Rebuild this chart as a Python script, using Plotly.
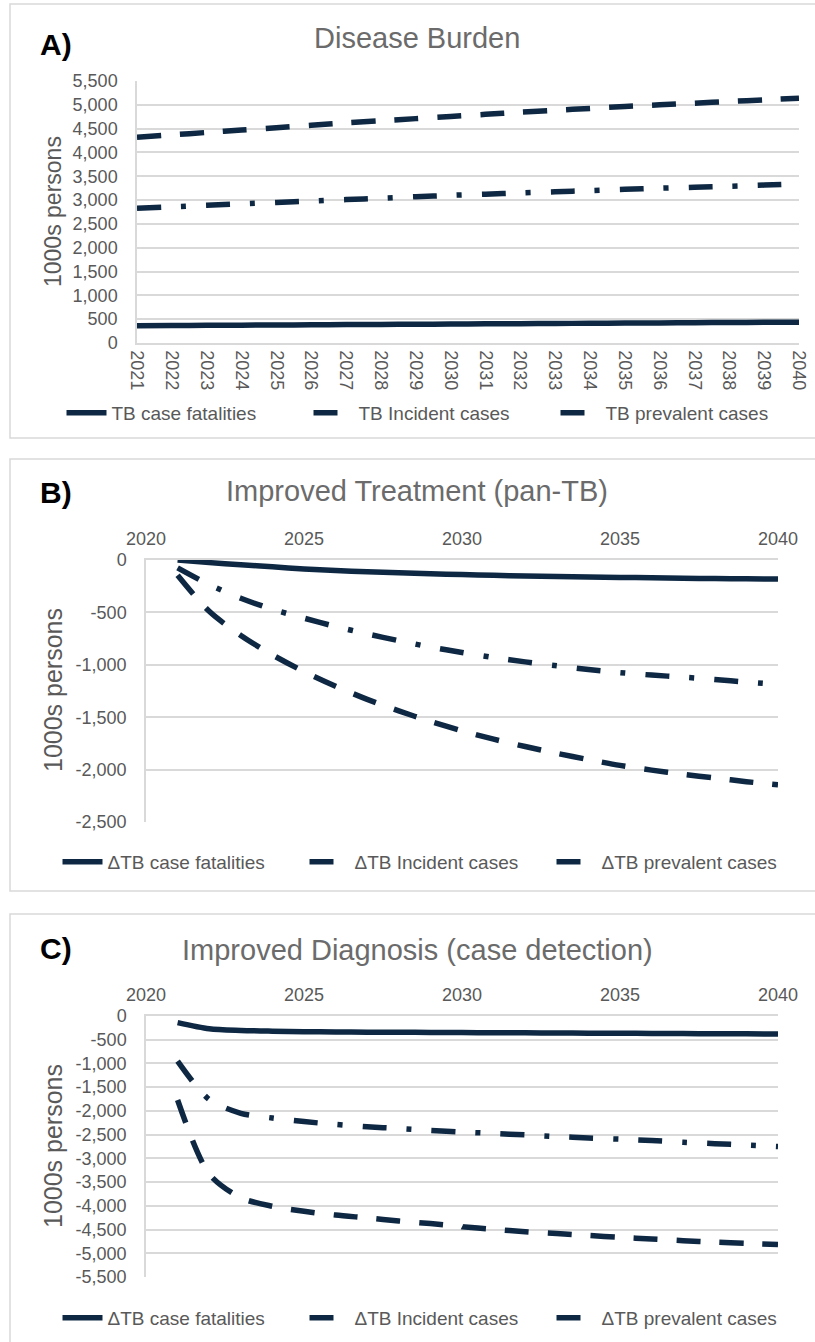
import plotly.graph_objects as go

# ---------------- data (1000s persons) ----------------
years = list(range(2021, 2041))

# A) Disease burden
a_fatalities = [360, 365, 370, 374, 378, 382, 386, 390, 394, 398,
                402, 406, 410, 414, 418, 422, 426, 430, 434, 438]
a_incident = [2830, 2860, 2890, 2920, 2950, 2980, 3010, 3040, 3070, 3100,
              3125, 3150, 3175, 3200, 3225, 3250, 3270, 3290, 3315, 3340]
a_prevalent = [4320, 4370, 4420, 4470, 4520, 4570, 4620, 4665, 4710, 4755,
               4800, 4845, 4885, 4925, 4965, 5000, 5035, 5070, 5105, 5140]

# B) Improved treatment (pan-TB), change vs baseline
b_fatalities = [0, -25, -45, -65, -85, -100, -112, -122, -131, -139,
                -146, -152, -157, -162, -166, -170, -174, -177, -180, -182]
b_incident = [-75, -235, -365, -470, -555, -635, -705, -770, -830, -882,
              -930, -972, -1010, -1045, -1075, -1098, -1118, -1140, -1165, -1188]
b_prevalent = [-145, -490, -720, -905, -1065, -1205, -1330, -1440, -1540, -1630,
               -1710, -1780, -1845, -1905, -1960, -2005, -2045, -2080, -2115, -2145]

# C) Improved diagnosis (case detection), change vs baseline
c_fatalities = [-140, -270, -305, -320, -330, -335, -340, -343, -346, -349,
                -352, -355, -358, -361, -364, -367, -370, -373, -376, -380]
c_incident = [-950, -1760, -2050, -2150, -2225, -2285, -2335, -2370, -2410, -2445,
              -2475, -2505, -2540, -2570, -2595, -2625, -2660, -2690, -2720, -2750]
c_prevalent = [-1770, -3330, -3830, -4010, -4115, -4195, -4255, -4320, -4375, -4440,
               -4495, -4545, -4585, -4625, -4665, -4700, -4735, -4765, -4790, -4815]

names_a = ["TB case fatalities", "TB Incident cases", "TB prevalent cases"]
names_delta = ["\u0394TB case fatalities", "\u0394TB Incident cases", "\u0394TB prevalent cases"]

a_yticks = list(range(0, 5501, 500))
b_yticks = list(range(-2500, 1, 500))
c_yticks = list(range(-5500, 1, 500))
bc_xticks = [2020, 2025, 2030, 2035, 2040]

# ---------------- styling ----------------
W, H = 815, 1342
NAVY = "#0e2843"
GRID = "#d9d9d9"
TXT = "#595959"
FONT = "Liberation Sans, Arial, sans-serif"
LW = 5.5
DASHES = ["solid", "24px,20px,5px,20px", "24px,19px"]


def px_x(v):
    return v / W


def px_y(v):
    return 1 - v / H


def fmt(v):
    return f"{v:,}"


fig = go.Figure()

panels = [
    ("", years, [a_fatalities, a_incident, a_prevalent], names_a, "legend"),
    ("2", years, [b_fatalities, b_incident, b_prevalent], names_delta, "legend2"),
    ("3", years, [c_fatalities, c_incident, c_prevalent], names_delta, "legend3"),
]

for suffix, xs, series, names, leg in panels:
    for ys, nm, dash in zip(series, names, DASHES):
        fig.add_trace(go.Scatter(
            x=xs, y=ys, name=nm, mode="lines",
            line=dict(color=NAVY, width=LW, dash=dash, shape="spline", smoothing=0.8),
            xaxis="x" + suffix, yaxis="y" + suffix, legend=leg,
            hoverinfo="skip",
        ))

tickfont = dict(family=FONT, size=18, color=TXT)

# plot-area placement (pixels)
A_x = (137, 799)
A_y = (81, 343)
BC_x = (146, 778)
B_y = (560, 822)
C_y = (1016, 1277)

common_x = dict(showgrid=False, showline=True, linecolor=GRID, linewidth=1.5,
                ticks="", tickfont=tickfont, zeroline=False, automargin=False)
common_y = dict(showgrid=True, gridcolor=GRID, gridwidth=1.5, showline=True,
                linecolor=GRID, linewidth=1.5, zeroline=False, ticks="",
                tickfont=tickfont, ticklabelstandoff=14, automargin=False)

fig.update_layout(
    width=W, height=H,
    margin=dict(l=0, r=0, t=0, b=0, autoexpand=False),
    paper_bgcolor="white", plot_bgcolor="white",
    font=dict(family=FONT, color=TXT),
    xaxis=dict(domain=[px_x(A_x[0]), px_x(A_x[1])], anchor="y",
               range=[2021, 2040], tickvals=years, ticktext=[str(y) for y in years],
               tickangle=90, ticklabelstandoff=2, **common_x),
    yaxis=dict(domain=[px_y(A_y[1]), px_y(A_y[0])], anchor="x",
               range=[0, 5500], tickvals=a_yticks, ticktext=[fmt(v) for v in a_yticks],
               **common_y),
    xaxis2=dict(domain=[px_x(BC_x[0]), px_x(BC_x[1])], anchor="y2", side="top",
                range=[2020, 2040], tickvals=bc_xticks, ticktext=[str(v) for v in bc_xticks],
                ticklabelstandoff=6, **common_x),
    yaxis2=dict(domain=[px_y(B_y[1]), px_y(B_y[0])], anchor="x2",
                range=[-2500, 0], tickvals=b_yticks, ticktext=[fmt(v) for v in b_yticks],
                **common_y),
    xaxis3=dict(domain=[px_x(BC_x[0]), px_x(BC_x[1])], anchor="y3", side="top",
                range=[2020, 2040], tickvals=bc_xticks, ticktext=[str(v) for v in bc_xticks],
                ticklabelstandoff=6, **common_x),
    yaxis3=dict(domain=[px_y(C_y[1]), px_y(C_y[0])], anchor="x3",
                range=[-5500, 0], tickvals=c_yticks, ticktext=[fmt(v) for v in c_yticks],
                **common_y),
)

legend_common = dict(orientation="h", xanchor="center", yanchor="middle",
                     font=dict(family=FONT, size=19, color=TXT),
                     bgcolor="rgba(0,0,0,0)", entrywidth=192, itemwidth=40,
                     tracegroupgap=0)
fig.update_layout(
    legend=dict(x=px_x(432), y=px_y(413), **legend_common),
    legend2=dict(x=px_x(428), y=px_y(862), **legend_common),
    legend3=dict(x=px_x(428), y=px_y(1318), **legend_common),
)

annotations = []
shapes = []
panel_text = [
    ("A)", "Disease Burden", 45, 38, 212, 23, (4, 438)),
    ("B)", "Improved Treatment (pan-TB)", 492, 491, 690, 25, (459, 891)),
    ("C)", "Improved Diagnosis (case detection)", 948, 950, 1146, 25, (914, 1360)),
]
for tag, title, tag_y, title_y, ylab_y, ylab_size, (top, bottom) in panel_text:
    annotations.append(dict(text=f"<b>{tag}</b>", x=px_x(56), y=px_y(tag_y),
                            xref="paper", yref="paper", showarrow=False,
                            xanchor="center", yanchor="middle",
                            font=dict(family=FONT, size=30, color="black")))
    annotations.append(dict(text=title, x=px_x(417), y=px_y(title_y),
                            xref="paper", yref="paper", showarrow=False,
                            xanchor="center", yanchor="middle",
                            font=dict(family=FONT, size=29, color="#6b6b6b")))
    annotations.append(dict(text="1000s persons", x=px_x(53), y=px_y(ylab_y),
                            xref="paper", yref="paper", showarrow=False, textangle=-90,
                            xanchor="center", yanchor="middle",
                            font=dict(family=FONT, size=ylab_size, color=TXT)))
    shapes.append(dict(type="rect", xref="paper", yref="paper",
                       x0=px_x(10), x1=px_x(830), y0=px_y(bottom), y1=px_y(top),
                       line=dict(color=GRID, width=1.5), fillcolor="rgba(0,0,0,0)",
                       layer="below"))

fig.update_layout(annotations=annotations, shapes=shapes)

fig.write_html("out.html")
